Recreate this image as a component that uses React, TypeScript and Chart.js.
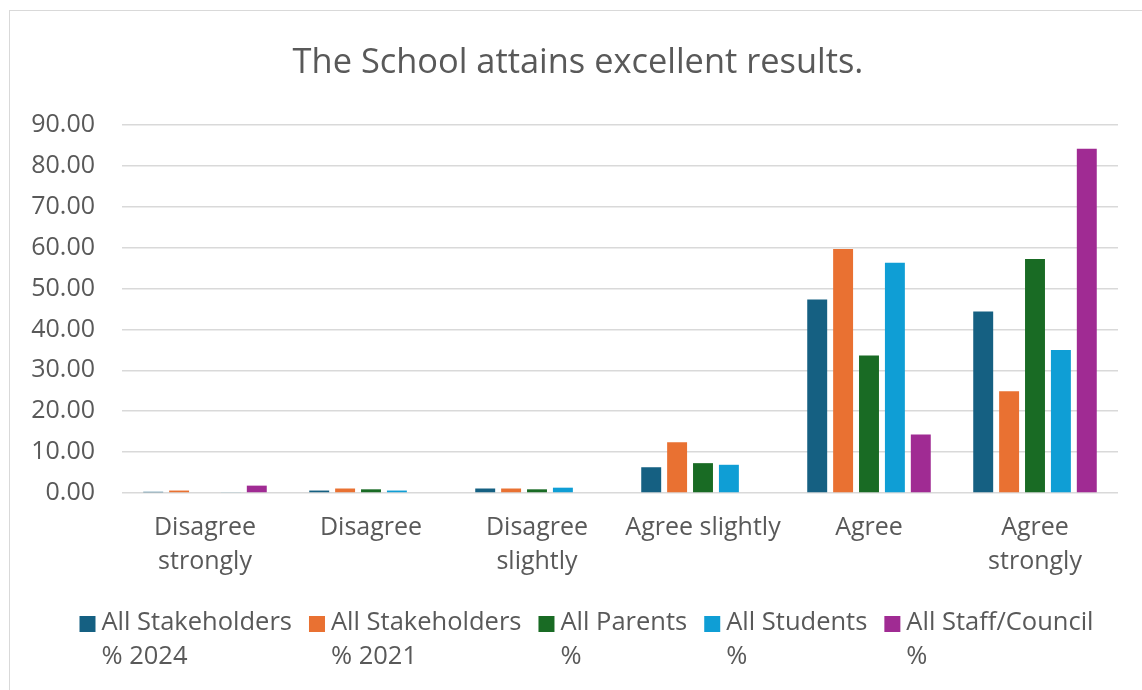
import React, { useEffect, useRef } from "react";
import { Chart, registerables } from "chart.js";

Chart.register(...registerables);

const categories: (string | string[])[] = [
  ["Disagree", "strongly"],
  "Disagree",
  ["Disagree", "slightly"],
  "Agree slightly",
  "Agree",
  ["Agree", "strongly"],
];

const stakeholders2024 = [0.3, 0.6, 1.1, 6.3, 47.3, 44.4];
const stakeholders2021 = [0.6, 1.1, 1.1, 12.4, 59.7, 24.9];
const parents = [0, 0.9, 0.9, 7.3, 33.6, 57.2];
const students = [0.2, 0.6, 1.3, 6.9, 56.3, 35.0];
const staffCouncil = [1.8, 0, 0, 0, 14.3, 84.2];

const seriesLabels: string[][] = [
  ["All Stakeholders", "% 2024"],
  ["All Stakeholders", "% 2021"],
  ["All Parents", "%"],
  ["All Students", "%"],
  ["All Staff/Council", "%"],
];
const seriesColors = ["#156082", "#E97132", "#196B24", "#0F9ED5", "#A02B93"];

const titleText = "The School attains excellent results.";
const FONT = "'Open Sans'";
const TEXT = "#595959";

const titlePlugin = {
  id: "offsetTitle",
  afterDraw(chart: any) {
    const ctx = chart.ctx as CanvasRenderingContext2D;
    ctx.save();
    ctx.font = `34.4px ${FONT}`;
    ctx.fillStyle = TEXT;
    ctx.textAlign = "center";
    ctx.textBaseline = "alphabetic";
    ctx.fillText(titleText, 568, 62);
    ctx.restore();
  },
};

const legendPlugin = {
  id: "wrapLegend",
  afterDraw(chart: any) {
    const ctx = chart.ctx as CanvasRenderingContext2D;
    const ds = chart.data.datasets;
    const fontSize = 25.5;
    const box = 16;
    const gapBoxText = 6;
    const gapItems = 17;
    const lineH = 34;
    const row1 = 612;
    ctx.save();
    ctx.font = `${fontSize}px ${FONT}`;
    const widths = ds.map((d: any) => {
      const lines: string[] = d.legendLines;
      return box + gapBoxText + Math.max(...lines.map((l) => ctx.measureText(l).width));
    });
    const total = widths.reduce((a: number, b: number) => a + b, 0) + gapItems * (ds.length - 1);
    let x = 576.5 - total / 2;
    ctx.textBaseline = "middle";
    ctx.textAlign = "left";
    ds.forEach((d: any, i: number) => {
      ctx.fillStyle = d.backgroundColor;
      ctx.fillRect(x, row1 - box / 2 + 1, box, box);
      ctx.fillStyle = TEXT;
      (d.legendLines as string[]).forEach((l, j) => {
        ctx.fillText(l, x + box + gapBoxText, row1 + j * lineH);
      });
      x += widths[i] + gapItems;
    });
    ctx.restore();
  },
};

export default function App() {
  const ref = useRef<HTMLCanvasElement>(null);
  useEffect(() => {
    if (!ref.current) return;
    const values = [stakeholders2024, stakeholders2021, parents, students, staffCouncil];
    const chart = new Chart(ref.current, {
      type: "bar",
      data: {
        labels: categories,
        datasets: values.map((v, i) => ({
          label: seriesLabels[i].join(" "),
          legendLines: seriesLabels[i],
          data: v,
          backgroundColor: seriesColors[i],
          borderWidth: 0,
          categoryPercentage: 0.78,
          barPercentage: 0.77,
        })) as any,
      },
      options: {
        animation: false,
        responsive: false,
        maintainAspectRatio: false,
        layout: { padding: { left: 0, right: 24, top: 114, bottom: 97 } },
        plugins: {
          legend: { display: false },
          tooltip: { enabled: false },
          title: { display: false },
        },
        scales: {
          x: {
            grid: { display: false, drawTicks: false },
            border: { display: false },
            ticks: {
              color: TEXT,
              font: { family: FONT, size: 25, lineHeight: 1.36 },
              padding: 18,
              maxRotation: 0,
              autoSkip: false,
            },
            afterFit: (s: any) => {
              s.height = 100;
            },
          },
          y: {
            min: 0,
            max: 90,
            grid: { color: "#d9d9d9", lineWidth: 1.5, drawTicks: false },
            border: { display: false },
            ticks: {
              stepSize: 10,
              color: TEXT,
              padding: 27,
              font: { family: FONT, size: 25 },
              callback: (v: any) => Number(v).toFixed(2),
            },
            afterFit: (s: any) => {
              s.width = 112;
            },
          },
        },
      },
      plugins: [titlePlugin, legendPlugin],
    });
    return () => chart.destroy();
  }, []);
  return (
    <div
      style={{
        position: "fixed",
        left: 9,
        top: 10,
        width: 1200,
        height: 720,
        border: "1px solid #d9d9d9",
        background: "#fff",
      }}
    >
      <canvas ref={ref} width={1132} height={679} style={{ display: "block" }} />
    </div>
  );
}
